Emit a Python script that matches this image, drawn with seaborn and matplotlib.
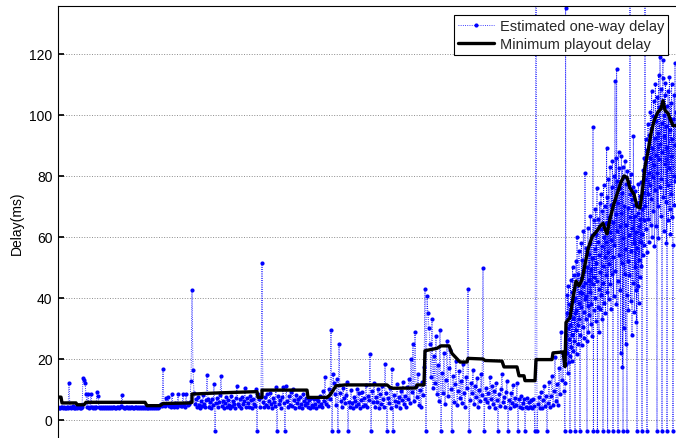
import numpy as np
import matplotlib
matplotlib.use("Agg")
import matplotlib.pyplot as plt
import seaborn as sns

# ---- Estimated one-way delay (ms) ----
# lost packets are drawn at -3.6, packets with huge delay go beyond the top
# sparse part: one packet per time unit
delay_a = [4.2, 4.0, 3.9, 4.3, 4.1, 3.8, 4.4, 4.0, 3.9, 4.2,
           4.0, 12.1, 4.3, 3.9, 4.1, 4.5, 3.8, 4.0, 4.2, 3.9,
           4.1, 4.4, 3.8, 4.0, 4.3, 13.8, 13.0, 12.2, 8.6, 4.1,
           8.6, 4.0, 4.3, 8.6, 4.1, 3.9, 4.2, 4.0, 4.4, 9.3,
           8.0, 4.1, 3.9, 4.2, 4.0, 4.3, 3.8, 4.1, 4.0, 4.2,
           3.9, 4.3, 4.0, 4.1, 3.8, 4.2, 4.4, 4.0, 3.9, 4.1,
           4.3, 4.0, 4.2, 4.6, 8.3, 4.1, 3.9, 4.0, 4.3, 4.1,
           3.8, 4.2, 4.0, 4.4, 4.1, 3.9, 4.0, 4.3, 4.2, 3.8,
           4.1, 4.0, 4.4, 3.9, 4.2, 4.0, 4.1, 3.8, 4.3, 4.0,
           3.9, 4.2, 4.0, 4.1, 3.8, 4.3, 4.0, 4.2, 3.9, 4.1,
           4.0, 4.4, 4.8, 5.2, 4.5, 16.8, 5.0, 4.6, 7.2, 5.1,
           7.5, 4.6, 5.2, 4.4, 8.4, 5.0, 4.3, 5.5, 4.8, 4.2,
           8.4, 4.9, 5.3, 4.5, 4.7, 8.4, 5.1, 4.4, 8.5, 5.6,
           4.8, 5.3, 6.0, 12.8, 42.5, 16.5, 9.0]
delay_b = [5.2, 6.8, 4.1, 7.5, 5.0, 3.9, 6.2, 4.5, 8.1, 5.3,
           4.2, 6.5, 14.8, 7.0, 4.4, 5.8, 3.9, 6.9, 4.8, 11.8,
           -3.6, 5.5, 7.2, 4.3, 6.0, 8.2, 14.5, 4.6, 6.3, 3.9,
           5.7, 7.4, 4.2, 6.6, 5.0, 3.8, 7.8, 4.7, 6.1, 5.4,
           4.0, 7.1, 11.0, 5.2, 4.5, 6.8, 3.9, 7.6, 5.1, 6.2,
           10.5, 4.3, 7.3, 5.6, 4.1, 8.0, 6.4, 3.8, 7.0, 5.3,
           4.6, 10.0, -3.6, 8.4, 6.9, 4.2, 7.5, 51.5, 6.0, 4.4,
           7.7, 5.0, 8.5, 4.1, 6.3, 9.0, 5.4, 3.9, 7.2, 6.0,
           4.5, 10.8, -3.6, 8.0, 5.2, 6.7, 3.8, 7.4, 10.8, 5.5,
           -3.6, 11.0, 6.1, 4.3, 7.9, 5.0, 9.2, 4.6, 10.0, 6.5,
           4.0, 8.3, 5.7, 6.9, 4.2, 7.5, 5.3, 3.9, 8.6, 6.2,
           4.8, 7.1, 5.5, 4.1, 6.6, 3.8, 7.3, 5.0, 4.4, 6.8,
           5.2, 4.0, 7.0, 6.1, 4.6, 8.0, 5.4, 4.2, 9.5, 6.3,
           14.0, 5.1, 7.6, 4.5, 10.2, 6.8, 29.5, -3.6, 15.0, 12.0]
delay_c = [8.5, 5.0, 13.5, -3.6, 24.8, 9.0, 6.2, 4.3, 10.5, 7.1,
           5.5, 8.2, 12.5, -3.6, 6.0, 4.2, 9.8, 5.6, 3.9, 7.4,
           6.1, 4.5, 10.0, 5.3, 8.7, 3.8, 6.6, 9.1, 4.7, 7.2,
           5.0, 11.5, 4.1, 8.0, 6.4, 21.6, -3.6, 9.5, 5.8, 12.0,
           4.4, 7.7, 6.0, 10.2, 3.9, 8.5, 5.2, 11.0, 6.8, 4.3,
           18.3, 9.0, -3.6, 7.1, 5.5, 10.6, 4.0, 16.7, -3.6, 8.3,
           6.2, 4.6, 11.8, 5.9, 7.5, 3.8, 9.6, 6.4, 12.5, 5.1,
           8.0, 4.2, 10.9, 7.0, 13.5, 5.5, 20.0, 9.2, 25.0, 6.1,
           28.8, 11.0, 7.4, 15.2, 5.0, 9.8, 4.3, 12.6, 8.1, 17.5,
           43.0, -3.6, 40.5, 35.0, 30.2, 25.0, 14.0, 33.0, 10.5, 21.0,
           12.0, 27.5, 8.5, 18.0, 6.2, 29.5, -3.6, 15.5, 9.0, 22.0,
           5.4, 13.0, 26.0, 7.8, 17.0, 23.0, 10.2, -3.6, 14.5, 6.0,
           11.8, 19.5, 4.8, 9.5, 16.0, 7.2, 12.8, 5.5, 18.5, 8.8,
           4.2, 14.0, 10.5, 43.0, -3.6, 6.5, 12.2, 9.0, 16.5, 5.1,
           11.0, 7.6, 13.8, 4.4, 9.9, 6.3, 15.0, 8.2, 49.8, -3.6]
delay_d = [7.0, 10.5, 5.8, 8.7, 4.1, 14.0, 7.0, 11.2, 5.2, 9.4,
           3.9, 12.0, 6.6, -3.6, 8.5, 4.6, 10.0, 15.0, 5.9, 7.7,
           4.3, 9.2, 12.8, -3.6, 6.4, 3.8, 8.9, 5.5, 11.5, 4.7,
           7.3, 5.0, 12.0, -3.6, 6.8, 4.2, 7.9, 3.8, 5.6, 6.9,
           -3.6, 4.4, 7.2, 3.9, 5.8, 4.1, 6.5, 3.8, 7.0, 4.6,
           -3.6, 200.0, -3.6,
           5.2, 7.5, 4.0, 9.2, 3.8, 6.4, 11.0, 4.5, 8.0, -3.6,
           5.5, 12.5, 4.2, 7.8, 14.5, 5.0, 9.6, 20.5, 6.3, 11.8,
           4.8, 17.0, 8.5, 29.0, 13.0, 22.0, 9.5]
# dense part (congestion): three packets per time unit
delay_e = [-3.6, 12.0, 135.2, 28.0, 18.5, 35.0, 22.0, 41.0, 15.5, 30.0, 44.0, 19.0, 26.5, 38.0, 21.0,
           -3.6, 31.0, 46.0, 24.0, 36.5, 19.5, 42.0, 28.0, 50.0, 33.5, 22.5, 39.0, 47.5, 26.0, 35.0,
           -3.6, 40.0, 29.5, 52.0, 36.0, 21.5, 60.0, 44.5, 31.0, 48.0, 25.0, 38.5, 55.5, 33.0, 42.0,
           -3.6, 28.0, 46.5, 37.0, 58.0, 24.5, 41.5, 52.5, 30.5, 44.0, 62.0, 35.5, 27.0, 49.0, 39.5,
           81.0, 45.0, 33.0, 56.5, 40.5, 26.0, -3.6, 50.0, 37.5, 63.0, 29.0, 46.0, 54.5, 34.5, 58.0,
           42.0, 67.0, 31.5, 49.5, 38.0, 60.5, 27.5, 53.0, 44.5, 96.0, -3.6, 36.0, 65.5, 47.0, 56.0,
           40.0, 69.0, 32.5, 51.5, 61.0, 45.5, 76.0, -3.6, 37.0, 58.5, 66.0, 43.0, 29.0, 54.0, 71.0,
           48.5, 36.5, 62.5, 74.0, 41.0, 57.0, 33.0, 68.5, 50.5, -3.6, 45.0, 77.0, 38.5, 60.0, 53.5,
           70.0, 35.0, 64.5, 47.5, 58.5, 89.0, 42.0, 73.0, -3.6, 55.0, 79.0, 39.5, 66.5, 51.0, 61.5,
           83.0, 44.5, 70.5, 36.5, 59.0, 76.5, 48.0, 85.0, 53.5, -3.6, 65.0, 40.5, 80.0, 57.5, 72.0,
           111.0, 49.0, 67.5, 86.0, 38.0, 115.0, 62.0, 78.5, 45.5, -3.6, 71.0, 88.0, 54.0, 82.5, 63.5,
           42.5, 76.0, 22.0, 68.0, 86.5, 51.5, 74.5, 17.5, 83.0, -3.6, 59.5, 79.5, 30.0, 70.0, 48.0,
           85.0, 56.0, 25.0, 77.5, 64.0, 41.0, -3.6, 81.5, 52.0, 69.5, 36.0, 78.0, 60.5, 47.5, 74.0,
           200.0, 66.5, 39.0, 80.5, 55.5, 72.5, 28.0, 63.0, 76.5, 45.0, 93.0, 58.0, 70.5, 35.5, 67.0,
           50.0, 75.0, 42.5, 61.5, 32.0, 71.0, -3.6, 56.5, 68.0, 44.0, 77.5, 38.5, 63.5, 52.5, 73.5,
           47.0, 66.0, 58.5, 78.0, 50.5, 69.0, -3.6, 61.0, 82.0, 54.0, 74.5, 65.5, 86.0, 57.5, 79.0,
           200.0, 70.0, 92.0, 62.5, 84.5, 55.0, -3.6, 88.5, 74.0, 97.0, 66.0, 81.0, 58.5, 93.5, 77.0,
           86.0, 101.0, 64.0, 95.5, 72.5, 108.0, 60.0, 89.0, 79.5, 99.5, 68.5, 104.5, 83.5, 57.0, 92.5,
           75.5, 110.0, 87.0, 63.5, 98.0, 81.0, -3.6, 106.0, 70.0, 94.0, 59.5, 113.0, 85.5, 102.5, 76.5,
           119.0, 90.5, 67.0, 108.5, 79.0, 97.5, -3.6, 88.0, 112.0, 118.0, 73.0, 100.0, 62.0, 93.0, 106.5,
           84.0, 110.5, 71.5, 96.5, 58.0, 103.0, -3.6, 89.5, 77.0, 108.0, 65.5, 99.0, 82.5, 112.5, 69.0,
           95.0, 61.0, 104.0, 86.5, 74.0, 110.0, 66.5, 92.0, 57.5, -3.6, 98.5, 80.0, 106.5, 70.5, 90.0,
           117.0, 78.5, 101.0]

# ---- Minimum playout delay (ms): vertices (time unit, value) ----
playout_t = [0, 3, 4, 18, 19, 26, 28, 87, 89, 102, 105, 132, 134, 134,
             162, 199, 200, 204, 204, 249, 250, 269, 272, 278, 287, 329,
             332, 335, 358, 359, 366, 367, 379, 383, 391, 394, 402, 409,
             410, 425, 427, 444, 446, 459, 461, 466, 467, 477, 478, 494,
             495, 505, 507, 508, 512, 515, 518, 521, 524, 527, 530, 534,
             539, 542, 545, 547, 549, 552, 556, 560, 563, 566, 569, 572,
             576, 579, 582, 584, 587, 590, 593, 596, 600, 603, 605, 607,
             610, 613, 615, 618]
playout_ms = [7.5, 7.5, 5.6, 5.6, 5.0, 5.0, 5.8, 5.8, 4.7, 4.7, 5.4, 5.6, 5.8, 8.5,
              8.9, 9.3, 7.4, 7.4, 9.8, 9.8, 7.4, 7.4, 8.2, 11.2, 11.5, 11.5,
              10.7, 10.4, 10.5, 11.5, 11.5, 22.7, 23.5, 24.3, 24.3, 21.8, 19.0, 19.0,
              20.2, 20.0, 19.5, 19.3, 17.4, 17.4, 14.5, 14.5, 12.9, 12.9, 19.8, 19.8,
              22.0, 22.3, 17.5, 32.0, 33.5, 40.0, 45.5, 44.0, 46.0, 51.0, 56.0, 60.0,
              62.0, 63.5, 64.5, 62.5, 61.0, 66.0, 71.0, 75.0, 78.0, 80.0, 79.5, 76.0,
              74.0, 70.0, 69.5, 74.0, 83.0, 88.0, 94.0, 98.0, 101.0, 102.0, 104.7, 101.5,
              100.5, 98.0, 96.5, 96.5]

yticks = [0, 20, 40, 60, 80, 100, 120]
legend_labels = ["Estimated one-way delay", "Minimum playout delay"]

sparse = delay_a + delay_b + delay_c + delay_d
one_way = np.array(sparse + delay_e, dtype=float)
# packet send time: one per unit in the sparse part, three per unit in the dense part
send_t = np.concatenate([np.arange(len(sparse)),
                         len(sparse) + np.arange(len(delay_e)) / 3.0])

sns.set_theme(style="white")
plt.rcParams['font.family'] = ['Liberation Sans', 'DejaVu Sans']

fig = plt.figure(figsize=(6.76, 4.39), dpi=100)
ax = fig.add_axes([58 / 676, 0, 618 / 676, 432 / 439])

sns.lineplot(x=send_t, y=one_way, ax=ax, color='blue', linestyle=':',
             linewidth=0.6, marker='o', markersize=3.0, markeredgewidth=0,
             markeredgecolor='blue', markerfacecolor='blue',
             estimator=None, sort=False, label=legend_labels[0])
sns.lineplot(x=playout_t, y=playout_ms, ax=ax, color='black', linewidth=2.4,
             estimator=None, sort=False, label=legend_labels[1])

ax.set_xlim(0, 618)
ax.set_ylim(-5.9, 135.7)
ax.set_yticks(yticks)
ax.set_xticks([])
ax.tick_params(axis='y', direction='in', length=4, pad=4, labelsize=10,
               colors='black', left=True)
ax.yaxis.grid(True, linestyle=':', color='#8c8c8c', linewidth=0.7)
ax.set_axisbelow(True)
for side in ['right', 'bottom']:
    ax.spines[side].set_visible(False)
for side in ['top', 'left']:
    ax.spines[side].set_color('black')
    ax.spines[side].set_linewidth(0.8)

ax.set_ylabel('Delay(ms)', fontsize=10, color='black')
ax.yaxis.set_label_coords(-0.055, 0.5)
ax.set_xlabel('')

leg = ax.legend(loc='upper right', bbox_to_anchor=(1 - 8 / 618, 1 - 9 / 432),
                borderaxespad=0, fontsize=10.5, handlelength=2.5, frameon=True,
                fancybox=False, framealpha=1, edgecolor='black',
                borderpad=0.25, labelspacing=0.3, handletextpad=0.4)
leg.get_frame().set_linewidth(0.8)

fig.savefig('out.png', dpi=100)
